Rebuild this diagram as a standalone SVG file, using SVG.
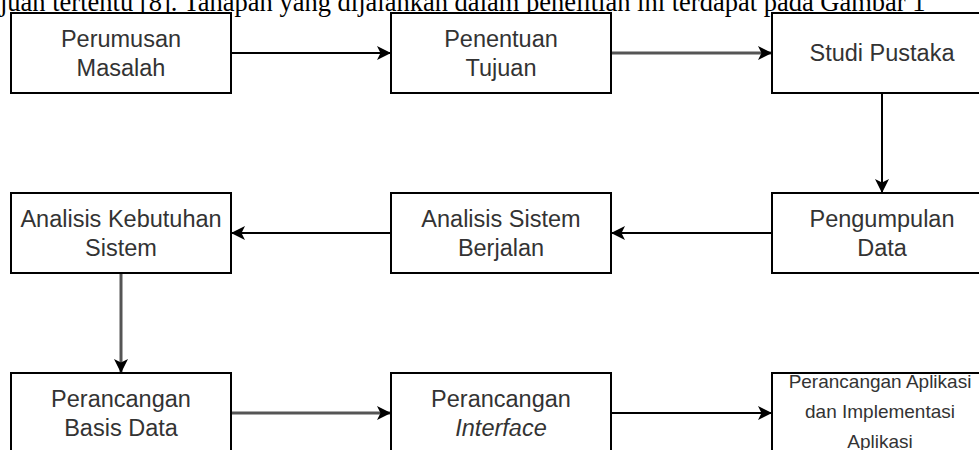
<svg xmlns="http://www.w3.org/2000/svg" width="979" height="450" viewBox="0 0 979 450">
<style>
.box{fill:#fff;stroke:#000;stroke-width:2}
.lbl{font-family:"Liberation Sans",Arial,sans-serif;font-size:23.5px;fill:#333;text-anchor:middle}
.sm{font-size:19px}
.e{fill:none;stroke:#000;stroke-width:2}
.g{fill:none;stroke:#555;stroke-width:3}
.top{font-family:"Liberation Serif","Times New Roman",serif;font-size:26.5px;fill:#000}
</style>
<defs>
<marker id="ah" markerUnits="userSpaceOnUse" markerWidth="15" markerHeight="14" refX="14" refY="7" orient="auto" overflow="visible">
<path d="M0,0 L14,7 L0,14 L3.5,7 Z" fill="#000"/>
</marker>
</defs>
<rect width="979" height="450" fill="#fff"/>
<text class="top" x="0" y="11">juan tertentu [8]. Tahapan yang dijalankan dalam penelitian ini terdapat pada Gambar 1</text>
<g id="connectors">
<path class="e" d="M231,53 H391" marker-end="url(#ah)"/>
<path class="g" d="M611,53 H772" marker-end="url(#ah)"/>
<path class="e" d="M882,93 V193" marker-end="url(#ah)"/>
<path class="e" d="M772,233 H611" marker-end="url(#ah)"/>
<path class="e" d="M391,233 H231" marker-end="url(#ah)"/>
<path class="g" d="M121,273 V373" marker-end="url(#ah)"/>
<path class="g" d="M231,413 H391" marker-end="url(#ah)"/>
<path class="e" d="M611,413 H772" marker-end="url(#ah)"/>
</g>
<g id="n1"><rect class="box" x="11" y="13" width="220" height="80"/><text class="lbl" x="121" y="47">Perumusan</text><text class="lbl" x="121" y="76">Masalah</text></g>
<g id="n2"><rect class="box" x="391" y="13" width="220" height="80"/><text class="lbl" x="501" y="47">Penentuan</text><text class="lbl" x="501" y="76">Tujuan</text></g>
<g id="n3"><rect class="box" x="772" y="13" width="220" height="80"/><text class="lbl" x="882" y="61">Studi Pustaka</text></g>
<g id="n4"><rect class="box" x="11" y="193" width="220" height="80"/><text class="lbl" x="121" y="227">Analisis Kebutuhan</text><text class="lbl" x="121" y="256">Sistem</text></g>
<g id="n5"><rect class="box" x="391" y="193" width="220" height="80"/><text class="lbl" x="501" y="227">Analisis Sistem</text><text class="lbl" x="501" y="256">Berjalan</text></g>
<g id="n6"><rect class="box" x="772" y="193" width="220" height="80"/><text class="lbl" x="882" y="227">Pengumpulan</text><text class="lbl" x="882" y="256">Data</text></g>
<g id="n7"><rect class="box" x="11" y="373" width="220" height="80"/><text class="lbl" x="121" y="407">Perancangan</text><text class="lbl" x="121" y="436">Basis Data</text></g>
<g id="n8"><rect class="box" x="391" y="373" width="220" height="80"/><text class="lbl" x="501" y="407">Perancangan</text><text class="lbl" x="501" y="436" font-style="italic">Interface</text></g>
<g id="n9"><rect class="box" x="772" y="373" width="220" height="80"/><text class="lbl sm" x="880" y="388">Perancangan Aplikasi</text><text class="lbl sm" x="880" y="418">dan Implementasi</text><text class="lbl sm" x="880" y="448">Aplikasi</text></g>
</svg>
